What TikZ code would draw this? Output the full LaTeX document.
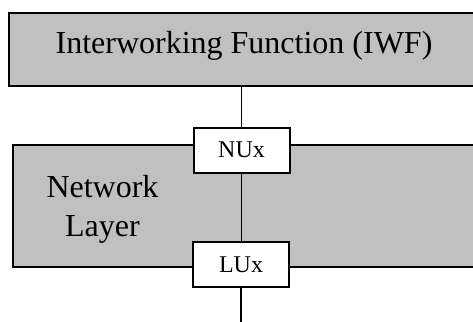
\documentclass[tikz,border=0pt]{standalone}
\usepackage{fontspec}
\setmainfont{Liberation Serif}
\newfontfamily\tnrfont{Liberation Serif}
\begin{document}
\begin{tikzpicture}[x=1pt,y=-1pt,
  layerbox/.style={draw=black, line width=2pt, fill=silvergray, inner sep=0pt},
  portbox/.style={draw=black, line width=2pt, fill=white, inner sep=0pt,
    minimum width=96pt, minimum height=45pt, font=\tnrfont\fontsize{24}{28}\selectfont},
  bigtext/.style={inner sep=0pt, font=\tnrfont\fontsize{32}{39}\selectfont, align=center},
  link/.style={draw=black, line width=1.5pt}]
\definecolor{silvergray}{RGB}{192,192,192}
\clip (0,0) rectangle (473,321);
\useasboundingbox (0,0) rectangle (473,321);
% top box (runs past the right edge)
\node[layerbox, minimum width=472pt, minimum height=72pt] (iwf) at (244.5,49.5) {};
\node[bigtext, anchor=base] (iwftext) at (244,53.3) {Interworking Function (IWF)};
% network layer box
\node[layerbox, minimum width=470pt, minimum height=121.7pt] (nl) at (247.7,205.9) {};
\node[bigtext] (nltext) at (102.5,209.8) {Network\\Layer};
% ports
\node[portbox] (nux) at (241.5,150.2) {NUx};
\node[portbox] (lux) at (241,264.7) {LUx};
\coordinate (bottom) at (241,330);
% connectors
\draw[link] (iwf.south -| nux.north) -- (nux.north);
\draw[link] (nux.south) -- (lux.north -| nux.south);
\draw[link] (lux.south) -- (bottom);
% redraw ports above the connectors
\node[portbox] at (nux.center) {NUx};
\node[portbox] at (lux.center) {LUx};
\end{tikzpicture}
\end{document}
